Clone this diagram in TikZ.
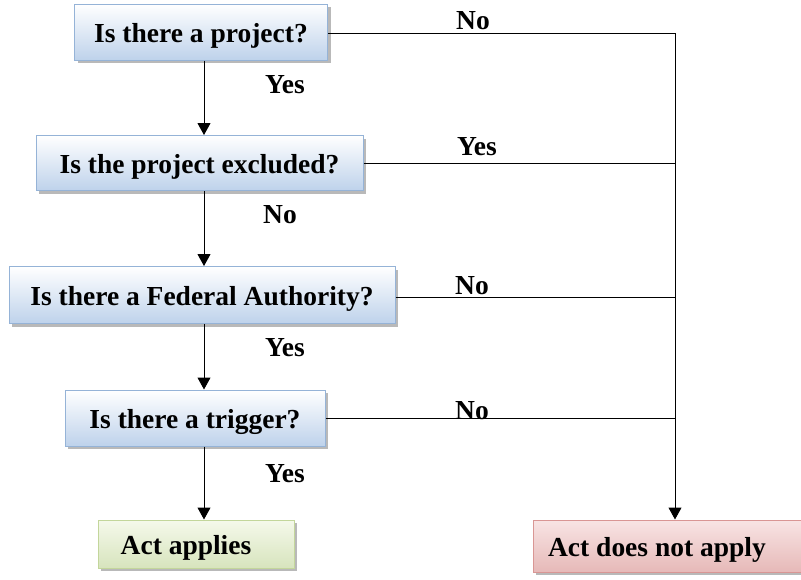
\documentclass[tikz,border=0pt]{standalone}
\usepackage{fontspec}
\setmainfont{Liberation Serif}
\usetikzlibrary{arrows.meta,shadows}
\newcommand{\lowtxt}[1]{\raisebox{-4pt}[\height][\depth]{#1}}
\begin{document}
\begin{tikzpicture}[x=1pt,y=-1pt,
  qbox/.style={draw={rgb,255:red,149;green,179;blue,215}, line width=1pt, top color=white, bottom color={rgb,255:red,190;green,210;blue,235},
    font=\bfseries\fontsize{27.5}{32}\selectfont, text=black, minimum height=55pt, inner sep=0pt,
    drop shadow={shadow xshift=3pt, shadow yshift=-3pt, fill=gray!55, opacity=1}},
  gbox/.style={qbox, draw={rgb,255:red,195;green,214;blue,155}, top color={rgb,255:red,245;green,249;blue,235}, bottom color={rgb,255:red,215;green,228;blue,189}},
  rbox/.style={qbox, draw={rgb,255:red,217;green,150;blue,148}, top color={rgb,255:red,248;green,228;blue,228}, bottom color={rgb,255:red,230;green,185;blue,184}},
  lbl/.style={font=\bfseries\fontsize{27.5}{32}\selectfont, inner sep=0pt},
  conn/.style={line width=1pt, draw=black},
  arr/.style={conn, -{Triangle[length=12pt,width=13pt]}}
]
\useasboundingbox (0,0) rectangle (801,579);
\node[qbox, minimum width=253pt, minimum height=56pt] (q1) at (201,32) {\lowtxt{Is there a project?}};
\node[qbox, minimum width=327pt, minimum height=55pt] (q2) at (199.5,163) {\lowtxt{Is the project excluded?}};
\node[qbox, minimum width=386pt, minimum height=57pt] (q3) at (202,295) {\lowtxt{Is there a Federal Authority?}};
\node[qbox, minimum width=260pt, minimum height=56pt] (q4) at (195,418) {\lowtxt{Is there a trigger?}};
\node[gbox, minimum width=196pt, minimum height=48pt] (a1) at (196,544) {\hspace*{-20pt}\lowtxt{Act applies}};
\node[rbox, minimum width=268pt, minimum height=52pt] (a2) at (667,546) {\hspace*{-20pt}\lowtxt{Act does not apply}};

\coordinate (r1) at (675,33);
\coordinate (r2) at (675,163);
\coordinate (r3) at (675,297);
\coordinate (r4) at (675,418);

\draw[arr] (q1.south -| 204,0) -- (q2.north -| 204,0);
\draw[arr] (q2.south -| 204,0) -- (q3.north -| 204,0);
\draw[arr] (q3.south -| 204,0) -- (q4.north -| 204,0);
\draw[arr] (q4.south -| 204,0) -- (a1.north -| 204,0);

\draw[conn] (q1.east |- r1) -- (r1);
\draw[conn] (q2.east |- r2) -- (r2);
\draw[conn] (q3.east |- r3) -- (r3);
\draw[conn] (q4.east |- r4) -- (r4);
\draw[arr] (r1) -- (a2.north -| r1);

\node[lbl] at (473,21) {No};
\node[lbl] at (285,85) {Yes};
\node[lbl] at (477,147) {Yes};
\node[lbl] at (280,215) {No};
\node[lbl] at (472,286) {No};
\node[lbl] at (285,348) {Yes};
\node[lbl] at (472,411) {No};
\node[lbl] at (285,474) {Yes};
\end{tikzpicture}
\end{document}
